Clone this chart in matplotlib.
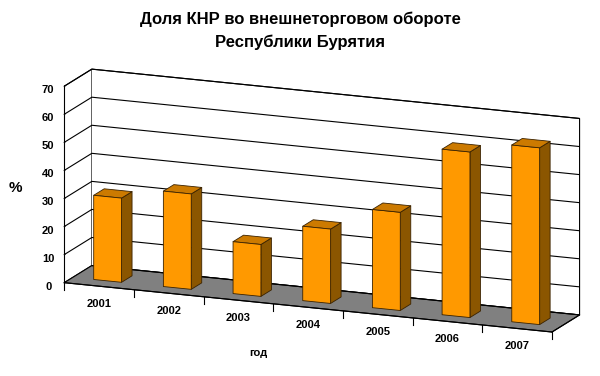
import numpy as np
import matplotlib.pyplot as plt

# data
years = ["2001", "2002", "2003", "2004", "2005", "2006", "2007"]
shares = [30, 34, 18.5, 26.5, 35, 59, 63]
z_ticks = [0, 10, 20, 30, 40, 50, 60, 70]

title = "Доля КНР во внешнеторговом обороте\nРеспублики Бурятия"

FRONT = "#ff9900"
TOP = "#cc7a00"
SIDE = "#8b5600"
EDGE = "#3a2200"
FLOOR = "#808080"

plt.rcParams['font.family'] = ['Liberation Sans', 'DejaVu Sans']

fig = plt.figure(figsize=(6, 3.76), dpi=100)
# tall axes so the square 3d drawing area covers the whole width
ax = fig.add_axes([0.023, -0.355, 1.0, 1.6], projection='3d')
ax.set_proj_type('ortho')
ax.view_init(elev=14.5, azim=-68)

n = len(years)
xpos = np.arange(n) - 0.2
width, depth = 0.4, 0.38
ypos = np.full(n, 0.31)

# face order in bar3d: bottom, top, front(-y), back(+y), left(-x), right(+x)
# hidden faces stay transparent so the depth sort can't bring them forward
face_colors = ["none", TOP, FRONT, "none", "none", SIDE] * n
edge_colors = ["none", EDGE, EDGE, "none", "none", EDGE] * n
bars = ax.bar3d(xpos, ypos, np.zeros(n), width, depth, shares,
                color=face_colors, edgecolors=edge_colors, shade=False, linewidth=0.6)
bars.set_clip_on(False)

ax.set_xlim(-0.5, n - 0.5)
ax.set_ylim(0, 1)
ax.set_zlim(0, 70)
ax.set_box_aspect((7, 0.98, 2.7), zoom=0.92)

# panes: grey floor, white walls
ax.xaxis.set_pane_color((1, 1, 1, 1))
ax.yaxis.set_pane_color((1, 1, 1, 1))
ax.zaxis.set_pane_color(FLOOR)
for a in (ax.xaxis, ax.yaxis, ax.zaxis):
    a.pane.set_edgecolor("black")
    a.pane.set_linewidth(0.8)
    a.line.set_color("black")
    a.line.set_linewidth(0.8)
    a.label.set_visible(False)
    a.offsetText.set_visible(False)

ax.zaxis.set_ticks_position('lower')
ax.set_xticks([])
ax.set_yticks([])
ax.set_zticks(z_ticks)
ax.set_zticklabels([str(t) for t in z_ticks], fontsize=8, fontweight="bold")
ax.tick_params(axis='z', pad=-1)
ax.zaxis._axinfo['grid'].update(color="black", linewidth=0.8)
ax.zaxis._axinfo['tick'].update(inward_factor=0, outward_factor=0.4)

# category tick marks between the years, hanging below the front edge
for b in np.arange(-0.5, n, 1.0):
    ax.plot([b, b], [0, 0], [0, -2.5], color="black", lw=0.8, clip_on=False)

for i, y in enumerate(years):
    ax.text(i, 0, -6.3, y, ha="center", va="center", fontsize=8, fontweight="bold")

fig.text(0.5, 0.97, title, ha="center", va="top", fontsize=12, fontweight="bold",
         linespacing=1.6)
fig.text(0.025, 0.5, "%", ha="center", va="center", fontsize=11, fontweight="bold")
fig.text(0.43, 0.06, "год", ha="center", va="center", fontsize=8, fontweight="bold")

fig.savefig("out.png", dpi=100)
